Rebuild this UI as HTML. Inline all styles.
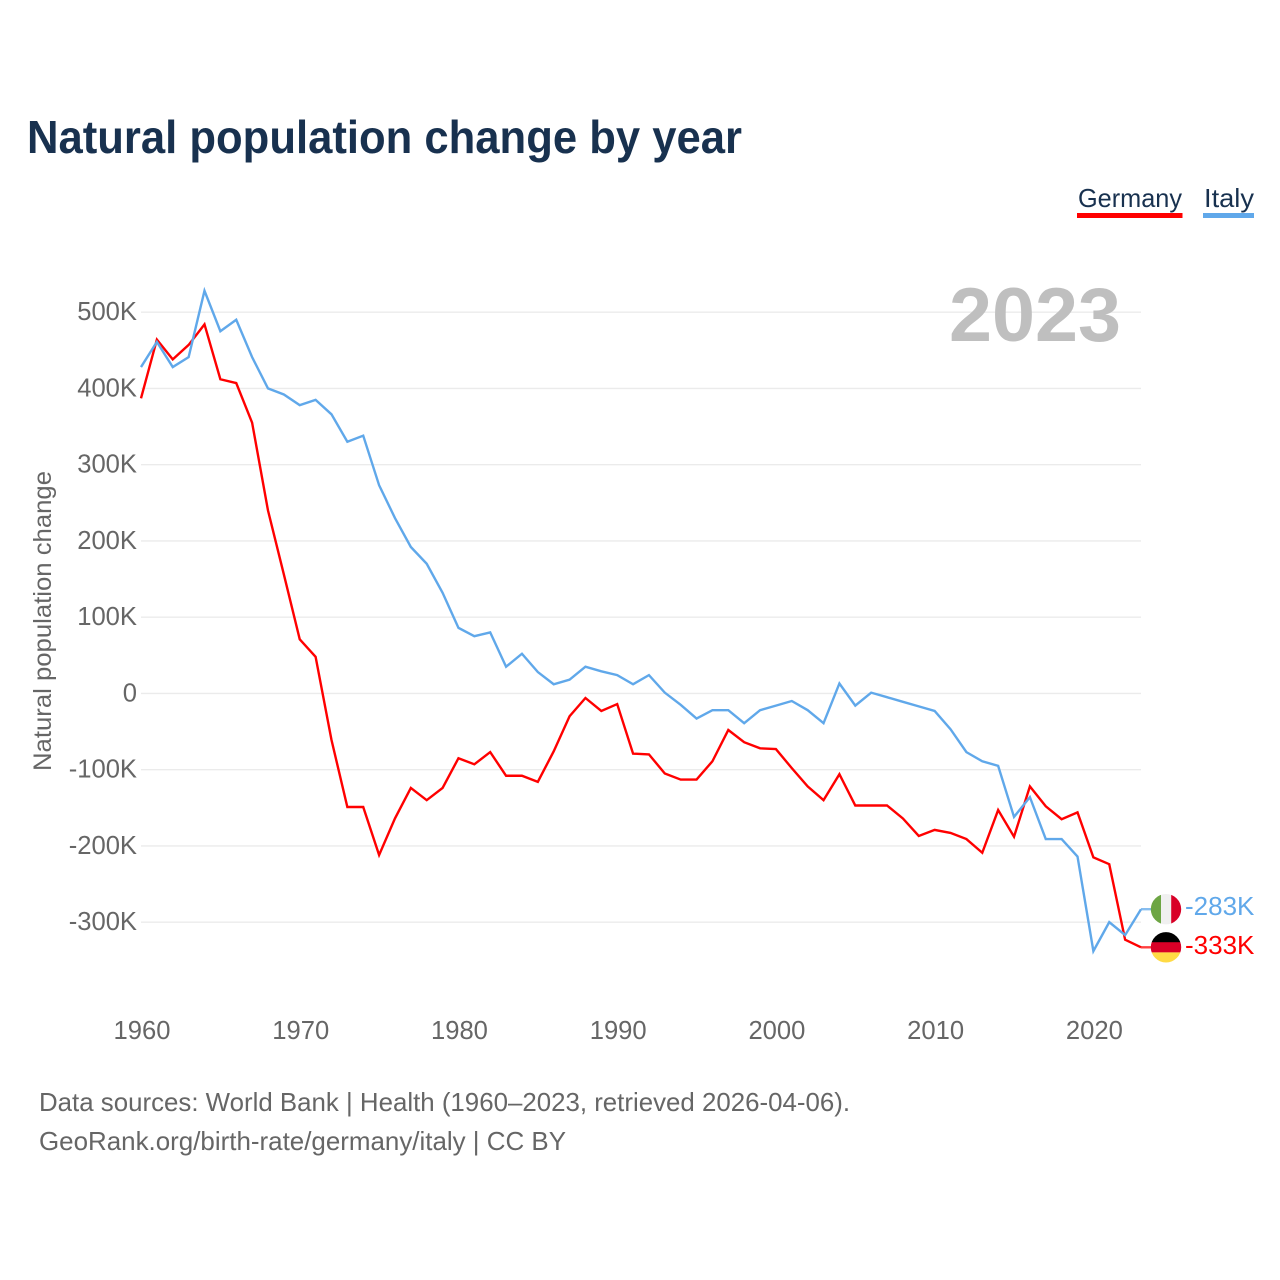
<!DOCTYPE html>
<html lang="en">
<head>
<meta charset="utf-8">
<title>Natural population change by year</title>
<style>
html,body{margin:0;padding:0;background:#fff;width:1280px;height:1280px;overflow:hidden}
svg{display:block}
text{font-family:"Liberation Sans",sans-serif}
</style>
</head>
<body>
<svg id="chart" xmlns="http://www.w3.org/2000/svg" width="1280" height="1280" viewBox="0 0 1280 1280">
  <text x="27" y="153" font-size="46" font-weight="700" fill="#18314f" textLength="715" lengthAdjust="spacingAndGlyphs">Natural population change by year</text>
  <g>
    <g>
      <text x="1078" y="207" font-size="26" fill="#18314f" textLength="104" lengthAdjust="spacingAndGlyphs">Germany</text>
      <rect x="1077" y="213" width="105.5" height="5" fill="#ff0000"/>
    </g>
    <g>
      <text x="1204" y="207" font-size="26" fill="#18314f" textLength="50" lengthAdjust="spacingAndGlyphs">Italy</text>
      <rect x="1203" y="213" width="51" height="5" fill="#60a8ea"/>
    </g>
  </g>
  <g id="grid"></g>
  <text x="949" y="341" font-size="76" font-weight="700" fill="#bfbfbf" textLength="172" lengthAdjust="spacingAndGlyphs">2023</text>
  <g id="y-axis"></g>
  <g id="x-axis"></g>
  <text transform="translate(51,621) rotate(-90)" text-anchor="middle" font-size="25" fill="#666666" textLength="300" lengthAdjust="spacingAndGlyphs">Natural population change</text>
  <g id="series"></g>
  <g id="ends"></g>
  <text x="39" y="1111" font-size="26" fill="#666666" textLength="811" lengthAdjust="spacingAndGlyphs">Data sources: World Bank | Health (1960–2023, retrieved 2026-04-06).</text>
  <text x="39" y="1150" font-size="26" fill="#666666" textLength="527" lengthAdjust="spacingAndGlyphs">GeoRank.org/birth-rate/germany/italy | CC BY</text>
</svg>
<script>
const startYear = 1960;
const endYear = 2023;
const germanyValues = [387,464,438,457,484,412,407,355,240,156,71,48,-61,-149,-149,-212,-164,-124,-140,-124,-85,-93,-77,-108,-108,-116,-76,-30,-6,-23,-14,-79,-80,-105,-113,-113,-89,-48,-64,-72,-73,-98,-122,-140,-106,-147,-147,-147,-164,-187,-179,-183,-191,-209,-153,-188,-122,-148,-165,-156,-215,-224,-323,-333];
const italyValues = [428,461,428,441,528,475,490,441,400,392,378,385,366,330,338,273,230,192,170,132,86,75,80,35,52,28,12,18,35,29,24,12,24,1,-15,-33,-22,-22,-39,-22,-16,-10,-22,-39,13,-16,1,-5,-11,-17,-23,-47,-77,-89,-95,-162,-136,-191,-191,-214,-338,-300,-317,-283];
const yTickValues = [500,400,300,200,100,0,-100,-200,-300];
const yTickLabels = ["500K","400K","300K","200K","100K","0","-100K","-200K","-300K"];
const xTickYears = [1960,1970,1980,1990,2000,2010,2020];

const NS = "http://www.w3.org/2000/svg";
function xScale(year){ return 141 + (year - startYear) * (1000 / (endYear - startYear)); }
function yScale(v){ return 693.4 - v * 0.7625; }
function make(tag, attrs, parent){
  const el = document.createElementNS(NS, tag);
  for (const k in attrs) el.setAttribute(k, attrs[k]);
  parent.appendChild(el);
  return el;
}

const grid = document.getElementById("grid");
const yAxis = document.getElementById("y-axis");
yTickValues.forEach(function(v, i){
  const line = make("line", {x1:141, x2:1141, y1:yScale(v), y2:yScale(v), stroke:"#ebebeb", "stroke-width":1.4}, grid);
  
  
  const t = make("text", {x:137, y:yScale(v)+8, "text-anchor":"end", "font-size":25.6, fill:"#666666"}, yAxis);
  
  
  t.textContent = yTickLabels[i];
});

const xAxis = document.getElementById("x-axis");
xTickYears.forEach(function(year){
  const t = make("text", {x:xScale(year)+1, y:1039, "text-anchor":"middle", "font-size":25.6, fill:"#666666"}, xAxis);
  
  
  t.textContent = year;
});

const seriesGroup = document.getElementById("series");
function drawLine(values, color){
  const pts = values.map(function(v, i){ return xScale(startYear + i).toFixed(2) + "," + yScale(v).toFixed(2); }).join(" ");
  return make("polyline", {points:pts, fill:"none", stroke:color, "stroke-width":2.4, "stroke-linejoin":"miter", "stroke-miterlimit":4}, seriesGroup);
}
const germanyLine = drawLine(germanyValues, "#ff0000");


const italyLine = drawLine(italyValues, "#60a8ea");



const ends = document.getElementById("ends");
function fmt(v){ return v + "K"; }
function flagClip(id, cy){
  const cp = make("clipPath", {id:id}, ends);
  make("circle", {cx:1166, cy:cy, r:15.2}, cp);
  return "url(#" + id + ")";
}

/* Germany end marker */
const gv = germanyValues[germanyValues.length - 1];
const gy = yScale(gv);
const gLead = make("line", {x1:1141, x2:1151, y1:gy, y2:gy, stroke:"#ff0000", "stroke-width":2.4, opacity:0.75}, ends);


const gFlag = make("g", {"clip-path":flagClip("clip-de", gy)}, ends);


make("rect", {x:1150, y:gy-16, width:32, height:11.2, fill:"#000000"}, gFlag);
make("rect", {x:1150, y:gy-5.1, width:32, height:10.2, fill:"#d80027"}, gFlag);
make("rect", {x:1150, y:gy+5.1, width:32, height:11, fill:"#ffda44"}, gFlag);
const gLabel = make("text", {x:1185, y:gy+6.5, "font-size":26, fill:"#ff0000"}, ends);


gLabel.textContent = fmt(gv);

/* Italy end marker */
const iv = italyValues[italyValues.length - 1];
const iy = yScale(iv);
const iLead = make("line", {x1:1141, x2:1151, y1:iy, y2:iy, stroke:"#60a8ea", "stroke-width":2.4, opacity:0.75}, ends);


const iFlag = make("g", {"clip-path":flagClip("clip-it", iy)}, ends);


make("rect", {x:1150, y:iy-16, width:11, height:32, fill:"#6da544"}, iFlag);
make("rect", {x:1161, y:iy-16, width:10.2, height:32, fill:"#f0f0f0"}, iFlag);
make("rect", {x:1171.2, y:iy-16, width:11, height:32, fill:"#d80027"}, iFlag);
const iLabel = make("text", {x:1185, y:iy+5.7, "font-size":26, fill:"#60a8ea"}, ends);


iLabel.textContent = fmt(iv);
</script>
</body>
</html>
